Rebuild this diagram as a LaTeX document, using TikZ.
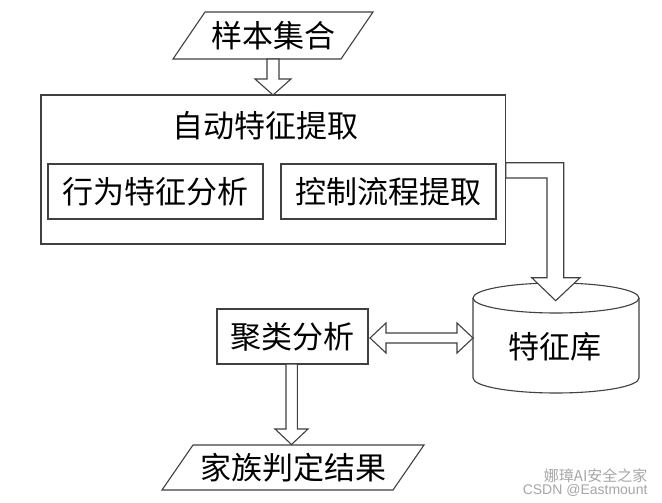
\documentclass[tikz,border=0pt]{standalone}
\usepackage{fontspec}
\setmainfont{Liberation Sans}
\newfontfamily\cjk{Noto Sans CJK SC}
\usetikzlibrary{calc}
\definecolor{lc}{HTML}{404040}
\begin{document}
\begin{tikzpicture}[x=1pt,y=-1pt,line width=1.1pt,line join=miter,
  lbl/.style={font=\cjk\fontsize{31}{31}\selectfont,inner sep=0pt,text=black},
  boxn/.style={draw=lc,fill=white,inner sep=0pt},
  hollow/.style={draw=lc,fill=white},
  wm/.style={text=black!35,inner sep=0pt}]
\useasboundingbox (0,0) rectangle (662,503);
\fill[white] (0,0) rectangle (662,503);

% top parallelogram
\draw[lc] (205,12) -- (373,12) -- (341,59) -- (173,59) -- cycle;
\node[lbl] (s) at (273,35.5) {样本集合};

% main box
\node[boxn,minimum width=464.7pt,minimum height=149pt] (main) at (273.35,169.5) {};
\node[lbl] (title) at (265,126) {自动特征提取};
\node[boxn,lbl,draw=lc,minimum width=215pt,minimum height=55pt] (b1) at (155.5,191.5) {行为特征分析};
\node[boxn,lbl,draw=lc,minimum width=215pt,minimum height=55pt] (b2) at (388.5,191.5) {控制流程提取};

% top arrow
\draw[hollow] (267,59) -- (279,59) -- (279,79) -- (291,79) -- (273,95) -- (255,79) -- (267,79) -- cycle;

% cylinder
\draw[lc,fill=white] (473,298) -- (473,378) arc[start angle=180,end angle=360,x radius=83pt,y radius=15pt] -- (639,298);
\draw[lc] (556,298) ellipse [x radius=83pt,y radius=15pt];
\node[lbl] (db) at (555,347) {特征库};

% bent arrow
\draw[hollow] (505.7,162.7) -- (563.7,162.7) -- (563.7,277.7) -- (580,277.7) -- (555.7,300.7) -- (531.7,277.7) -- (547,277.7) -- (547,178) -- (505.7,178) -- cycle;

% cluster box
\node[boxn,lbl,draw=lc,minimum width=151pt,minimum height=55pt] (c) at (292.5,336.5) {聚类分析};

% double arrow
\draw[hollow] (370,338) -- (386,323) -- (386,333) -- (457,333) -- (457,323) -- (473,338) -- (457,353) -- (457,343) -- (386,343) -- (386,353) -- cycle;

% down arrow
\draw[hollow] (286,364) -- (297.3,364) -- (297.3,429) -- (308,429) -- (291.5,444.5) -- (275,429) -- (286,429) -- cycle;

% bottom parallelogram
\draw[lc] (193,445) -- (424,445) -- (393,490) -- (162,490) -- cycle;
\node[lbl] (r) at (293,467.5) {家族判定结果};

% watermark
\node[wm,font=\cjk\fontsize{15}{15}\selectfont,anchor=east] (w1) at (648,476) {娜璋AI安全之家};
\node[wm,font=\fontsize{14}{14}\selectfont,anchor=east] (w2) at (648,490) {CSDN @Eastmount};
\end{tikzpicture}
\end{document}
